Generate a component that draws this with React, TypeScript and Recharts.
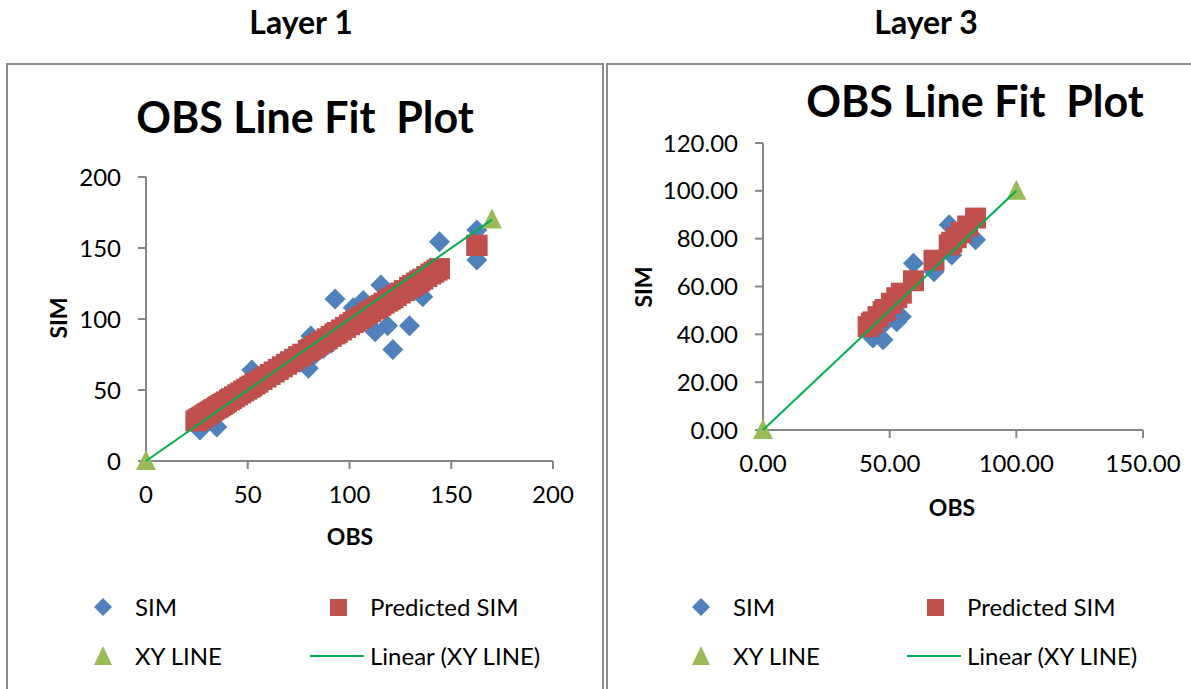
import React, { FC } from "react";
import { ScatterChart, Scatter, XAxis, YAxis } from "recharts";

// Layer 1 values
const layer1Obs = [
  24.5, 25.5, 26.5, 27.5, 28.5, 29.5, 30.5, 31.5, 32.5, 33.5, 34.8, 35.5, 36.5,
  37.5, 38.5, 39.5, 41, 42, 43.5, 45, 46.5, 48, 49.5, 51, 52, 53.5, 55, 57, 59,
  61, 63, 65, 67, 69, 71, 73, 75, 77, 79.8, 81, 83, 85, 87, 89, 91, 92.9, 94,
  96, 98, 100, 101.8, 103, 104.5, 106, 106.8, 109, 110.5, 112.6, 114, 115.4,
  117, 118.7, 120, 121.3, 123, 125, 127, 129.5, 131, 133, 134.5, 136, 138, 140,
  141.5, 143, 144.2, 162.6, 162.6,
];
const layer1Sim = [
  27, 25, 21.8, 29, 30, 27, 31, 29, 33, 31, 24, 35, 37, 36, 38, 40, 39, 43, 42,
  45, 47, 46, 50, 51, 64, 55, 54, 57, 58, 61, 62, 64, 66, 68, 70, 72, 73, 76,
  65.3, 88, 75, 80, 79, 86, 83, 114, 88, 92, 95, 97, 108, 101, 98, 104, 113,
  104, 108, 91, 107, 123.9, 110, 95.3, 112, 78.6, 113, 118, 117, 95.3, 124,
  121, 127, 115.7, 128, 130, 131, 133, 154.4, 162.6, 141.5,
];
const layer1Pred = [
  28.2, 29.1, 30.0, 30.9, 31.8, 32.7, 33.6, 34.5, 35.4, 36.3, 37.4, 38.1, 38.9,
  39.8, 40.7, 41.6, 43.0, 43.9, 45.2, 46.6, 47.9, 49.3, 50.6, 51.9, 52.8, 54.2,
  55.5, 57.3, 59.1, 60.9, 62.7, 64.5, 66.3, 68.1, 69.9, 71.7, 73.5, 75.2, 77.8,
  78.8, 80.6, 82.4, 84.2, 86.0, 87.8, 89.5, 90.5, 92.3, 94.1, 95.9, 97.5, 98.5,
  99.9, 101.2, 101.9, 103.9, 105.3, 107.1, 108.4, 109.6, 111.1, 112.6, 113.8,
  114.9, 116.5, 118.3, 120.0, 122.3, 123.6, 125.4, 126.8, 128.1, 129.9, 131.7,
  133.0, 134.4, 135.5, 151.9, 151.9,
];
const layer1XyLine = [0, 170];
const layer1Ticks = [0, 50, 100, 150, 200];

// Layer 3 values
const layer3Obs = [
  41.5, 42.8, 43.4, 45.4, 47.4, 48.2, 50.7, 52.8, 54.6, 59.4, 67.5, 73.5, 74.5,
  76.3, 78.2, 80.8, 83.9,
];
const layer3Sim = [
  42.0, 44.5, 38.5, 46.0, 37.7, 45.0, 51.0, 45.3, 47.4, 69.7, 66.2, 85.8, 73.2,
  78.0, 84.0, 86.0, 79.5,
];
const layer3Pred = [
  43.2, 44.6, 45.2, 47.4, 49.5, 50.4, 53.0, 55.3, 57.2, 62.4, 71.0, 77.4, 78.5,
  80.4, 82.5, 85.3, 88.6,
];
const layer3XyLine = [0, 100];
const layer3XTicks = [0, 50, 100, 150];
const layer3YTicks = [0, 20, 40, 60, 80, 100, 120];

const FONT = "Lato, 'Open Sans', sans-serif";
const BLUE = "#4F81BD";
const RED = "#C0504D";
const GREEN = "#9BBB59";
const LINE = "#00B050";
const AXIS = "#868686";
const H = 689;
const Y_W = 80;
const X_H = 40;

const Diamond = (p: any) => {
  const { cx, cy } = p;
  const r = 10.5;
  return (
    <path
      d={`M${cx},${cy - r}L${cx + r},${cy}L${cx},${cy + r}L${cx - r},${cy}Z`}
      fill={BLUE}
    />
  );
};

const Square = (p: any) => (
  <rect x={p.cx - 10.5} y={p.cy - 10.5} width={21} height={21} fill={RED} />
);

const Triangle = (p: any) => {
  const { cx, cy } = p;
  return (
    <path
      d={`M${cx},${cy - 11}L${cx + 10},${cy + 9}L${cx - 10},${cy + 9}Z`}
      fill={GREEN}
    />
  );
};

const Nothing = () => <g />;

type ChartProps = {
  left: number;
  width: number;
  plot: { l: number; r: number; t: number; b: number };
  xMax: number;
  yMax: number;
  xTicks: number[];
  yTicks: number[];
  obs: number[];
  sim: number[];
  pred: number[];
  xy: number[];
  fmt: (v: number) => string;
};

const LineFitChart: FC<ChartProps> = (props) => {
  const { left, width, plot, obs, sim, pred, xy, fmt } = props;
  const simData = obs.map((x, i) => ({ x, y: sim[i] }));
  const predData = obs.map((x, i) => ({ x, y: pred[i] }));
  const xyData = xy.map((v) => ({ x: v, y: v }));
  const tick = { fill: "#000", fontSize: 24, fontFamily: FONT };
  const axisLine = { stroke: AXIS, strokeWidth: 2 };
  return (
    <div style={{ position: "absolute", left, top: 0 }}>
      <ScatterChart
        width={width}
        height={H}
        margin={{
          top: plot.t,
          left: plot.l - left - Y_W,
          right: left + width - plot.r,
          bottom: H - plot.b - X_H,
        }}
      >
        <XAxis
          type="number"
          dataKey="x"
          domain={[0, props.xMax]}
          ticks={props.xTicks}
          interval={0}
          height={X_H}
          tickSize={8}
          tickMargin={17}
          tick={tick}
          tickFormatter={fmt}
          axisLine={axisLine}
          tickLine={axisLine}
        />
        <YAxis
          type="number"
          dataKey="y"
          domain={[0, props.yMax]}
          ticks={props.yTicks}
          interval={0}
          width={Y_W}
          tickSize={8}
          tickMargin={17}
          tick={tick}
          tickFormatter={fmt}
          axisLine={axisLine}
          tickLine={axisLine}
        />
        <Scatter name="SIM" data={simData} shape={Diamond} isAnimationActive={false} />
        <Scatter name="Predicted SIM" data={predData} shape={Square} isAnimationActive={false} />
        <Scatter name="XY LINE" data={xyData} shape={Triangle} isAnimationActive={false} />
        <Scatter
          name="Linear (XY LINE)"
          data={xyData}
          shape={Nothing}
          line={{ stroke: LINE, strokeWidth: 2 }}
          isAnimationActive={false}
        />
      </ScatterChart>
    </div>
  );
};

const Text: FC<{
  x: number;
  y: number;
  size: number;
  bold?: boolean;
  anchor?: "start" | "middle";
  rotate?: boolean;
  children: React.ReactNode;
}> = ({ x, y, size, bold, anchor = "middle", rotate, children }) => (
  <div
    style={{
      position: "absolute",
      left: x,
      top: y,
      transform: `translate(${anchor === "middle" ? "-50%" : "0"}, -50%)${
        rotate ? " rotate(-90deg)" : ""
      }`,
      fontSize: size,
      fontWeight: bold ? 700 : 400,
      whiteSpace: "pre",
      lineHeight: 1,
    }}
  >
    {children}
  </div>
);

const LegendMark: FC<{ x: number; y: number; kind: string }> = ({ x, y, kind }) => (
  <svg
    style={{ position: "absolute", left: x - 30, top: y - 12 }}
    width={60}
    height={24}
  >
    {kind === "diamond" && <path d="M30,3L39,12L30,21L21,12Z" fill={BLUE} />}
    {kind === "square" && <rect x={22} y={4} width={17} height={17} fill={RED} />}
    {kind === "triangle" && <path d="M30,2L39,21L21,21Z" fill={GREEN} />}
    {kind === "line" && <line x1={3} y1={12} x2={57} y2={12} stroke={LINE} strokeWidth={2} />}
  </svg>
);

const Legend: FC<{ markX: number; textX: number; mark2X: number; text2X: number }> = ({
  markX,
  textX,
  mark2X,
  text2X,
}) => (
  <>
    <LegendMark x={markX} y={607} kind="diamond" />
    <Text x={textX} y={607} size={24} anchor="start">SIM</Text>
    <LegendMark x={mark2X} y={607} kind="square" />
    <Text x={text2X} y={607} size={24} anchor="start">Predicted SIM</Text>
    <LegendMark x={markX} y={656} kind="triangle" />
    <Text x={textX} y={656} size={24} anchor="start">XY LINE</Text>
    <LegendMark x={mark2X - 1} y={656} kind="line" />
    <Text x={text2X} y={656} size={24} anchor="start">Linear (XY LINE)</Text>
  </>
);

const App: FC = () => {
  return (
    <div
      style={{
        position: "absolute",
        left: 0,
        top: 0,
        width: 1191,
        height: H,
        overflow: "hidden",
        background: "#fff",
        fontFamily: FONT,
        color: "#000",
      }}
    >
      <Text x={301} y={22} size={32} bold>Layer 1</Text>
      <Text x={926} y={22} size={32} bold>Layer 3</Text>
      <div
        style={{
          position: "absolute",
          left: 6,
          top: 63,
          width: 594,
          height: 640,
          border: "2px solid #8c8c8c",
        }}
      />
      <div
        style={{
          position: "absolute",
          left: 606,
          top: 63,
          width: 600,
          height: 640,
          border: "2px solid #8c8c8c",
        }}
      />
      <Text x={305} y={116} size={43} bold>OBS Line Fit  Plot</Text>
      <Text x={975} y={100} size={43} bold>OBS Line Fit  Plot</Text>

      <LineFitChart
        left={8}
        width={594}
        plot={{ l: 146, r: 553, t: 177, b: 461 }}
        xMax={200}
        yMax={200}
        xTicks={layer1Ticks}
        yTicks={layer1Ticks}
        obs={layer1Obs}
        sim={layer1Sim}
        pred={layer1Pred}
        xy={layer1XyLine}
        fmt={(v) => String(v)}
      />
      <LineFitChart
        left={608}
        width={583}
        plot={{ l: 763, r: 1143, t: 143, b: 430 }}
        xMax={150}
        yMax={120}
        xTicks={layer3XTicks}
        yTicks={layer3YTicks}
        obs={layer3Obs}
        sim={layer3Sim}
        pred={layer3Pred}
        xy={layer3XyLine}
        fmt={(v) => v.toFixed(2)}
      />

      <Text x={58} y={318} size={23} bold rotate>SIM</Text>
      <Text x={350} y={536} size={23} bold>OBS</Text>
      <Text x={643} y={287} size={23} bold rotate>SIM</Text>
      <Text x={952} y={507} size={23} bold>OBS</Text>

      <Legend markX={103} textX={135} mark2X={338} text2X={370} />
      <Legend markX={701} textX={733} mark2X={935} text2X={967} />
    </div>
  );
};

export default App;
